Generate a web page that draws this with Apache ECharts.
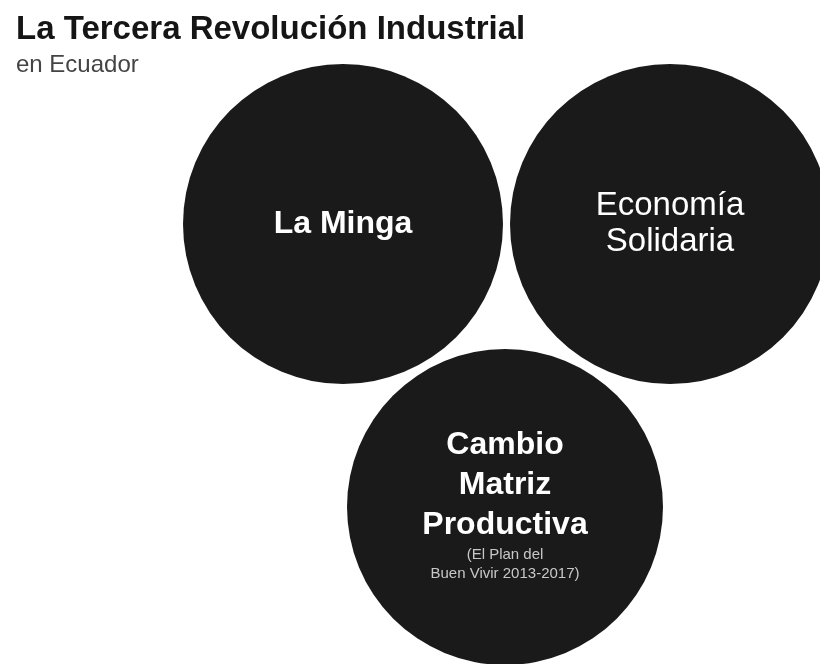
<!DOCTYPE html>
<html>
<head>
<meta charset="utf-8">
<script src="https://cdn.jsdelivr.net/npm/echarts@6/dist/echarts.min.js"></script>
<style>
  html, body { margin: 0; padding: 0; background: #ffffff; }
  #chart { width: 820px; height: 664px; }
</style>
</head>
<body>
<div id="chart"></div>
<script>
// Data: three circles (bubble positions and radii in layout units)
const circleNames = ['La Minga', 'Economía\nSolidaria', 'Cambio\nMatriz\nProductiva'];
const circleNotes = ['', '', '(El Plan del\nBuen Vivir 2013-2017)'];
const circleX = [343, 670, 505];
const circleY = [224, 224, 507];
const circleR = [160, 160, 158];
const circleBold = [true, false, true];

const chart = echarts.init(document.getElementById('chart'), null, { renderer: 'canvas' });

const data = circleNames.map((n, i) => [circleX[i], circleY[i], circleR[i], i]);

function buildText(i) {
  const lines = circleNames[i].split('\n').map(s => '{' + (circleBold[i] ? 'b' : 'a') + '|' + s + '}');
  if (circleNotes[i]) {
    circleNotes[i].split('\n').forEach(s => lines.push('{s|' + s + '}'));
  }
  return lines.join('\n');
}

const FONT = '"Liberation Sans", Arial, Helvetica, sans-serif';

const option = {
  backgroundColor: '#ffffff',
  animation: false,
  title: {
    text: 'La Tercera Revolución Industrial',
    subtext: 'en Ecuador',
    left: 11,
    top: 8,
    itemGap: 7,
    textStyle: { fontFamily: FONT, fontSize: 33, fontWeight: 'bold', color: '#151515' },
    subtextStyle: { fontFamily: FONT, fontSize: 24, fontWeight: 'normal', color: '#444444' }
  },
  grid: { left: 0, right: 0, top: 0, bottom: 0 },
  xAxis: { type: 'value', min: 0, max: 820, show: false },
  yAxis: { type: 'value', min: 0, max: 664, inverse: true, show: false },
  series: [{
    type: 'custom',
    coordinateSystem: 'cartesian2d',
    data: data,
    renderItem: function (params, api) {
      const i = api.value(3);
      const c = api.coord([api.value(0), api.value(1)]);
      const r = api.size([api.value(2), 0])[0];
      return {
        type: 'group',
        children: [
          { type: 'circle', shape: { cx: c[0], cy: c[1], r: r }, style: { fill: '#1a1a1a' } },
          {
            type: 'text',
            x: c[0], y: c[1] - (i === 2 ? 3 : 0),
            style: {
              text: buildText(i),
              align: 'center',
              verticalAlign: 'middle',
              fill: '#ffffff',
              rich: {
                a: { fontFamily: FONT, fontSize: 33, fontWeight: 'normal', fill: '#ffffff', lineHeight: 36, align: 'center' },
                b: { fontFamily: FONT, fontSize: 32, fontWeight: 'bold', fill: '#ffffff', lineHeight: 40, align: 'center' },
                s: { fontFamily: FONT, fontSize: 15, fontWeight: 'normal', fill: '#c8c8c8', lineHeight: 19, align: 'center' }
              }
            }
          }
        ]
      };
    }
  }]
};

chart.setOption(option);
</script>
</body>
</html>
